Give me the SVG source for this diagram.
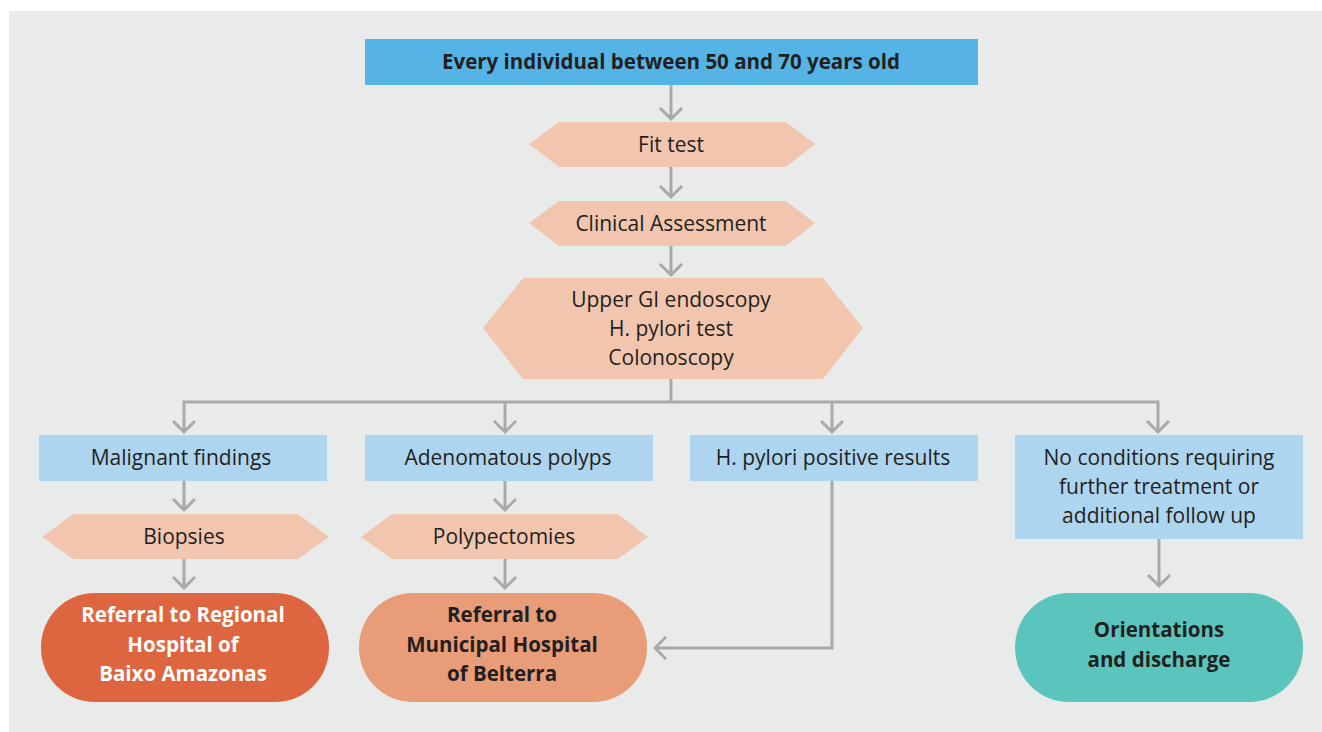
<svg xmlns="http://www.w3.org/2000/svg" width="1322" height="732" viewBox="0 0 1322 732">
<style>
text{font-family:"Open Sans","Noto Sans","Liberation Sans",sans-serif;font-size:21px;fill:#231f20;text-anchor:middle}
.b{font-weight:bold;font-size:20.5px}
.w{fill:#ffffff}
.hex{fill:#f2c6ae}
.blue{fill:#aed5ef}
.conn path{fill:none;stroke:#a8a9ab;stroke-width:3}
</style>
<rect x="0" y="0" width="1322" height="732" fill="#ffffff"/>
<rect x="9" y="11" width="1313" height="721" fill="#e9ebea"/>
<g class="conn" id="connectors">
<path d="M671 85V119M660 108L671 119L682 108"/>
<path d="M671 167V197M660 186L671 197L682 186"/>
<path d="M671 246V275M660 264L671 275L682 264"/>
<path d="M671 379V402M184 432V402H1158V432"/>
<path d="M173 421L184 432L195 421"/>
<path d="M505 402V432M494 421L505 432L516 421"/>
<path d="M832 402V432M821 421L832 432L843 421"/>
<path d="M1147 421L1158 432L1169 421"/>
<path d="M184 481V510M173 499L184 510L195 499"/>
<path d="M505 481V510M494 499L505 510L516 499"/>
<path d="M184 559V588M173 577L184 588L195 577"/>
<path d="M505 559V588M494 577L505 588L516 577"/>
<path d="M832 481V648H655M666 637L655 648L666 659"/>
<path d="M1159 538V586M1148 575L1159 586L1170 575"/>
</g>
<g id="start">
<rect x="365" y="39" width="613" height="46" fill="#55b4e5"/>
<text class="b" x="671" y="69">Every individual between 50 and 70 years old</text>
</g>
<g id="fit">
<polygon class="hex" points="529,144 559,122 786,122 815,144 786,167 559,167"/>
<text x="671" y="152">Fit test</text>
</g>
<g id="clinical">
<polygon class="hex" points="529,223 559,201 786,201 815,223 786,246 559,246"/>
<text x="671" y="231">Clinical Assessment</text>
</g>
<g id="exams">
<polygon class="hex" points="483,328 523,278 823,278 863,328 823,379 523,379"/>
<text x="671" y="307">Upper GI endoscopy</text>
<text x="671" y="336">H. pylori test</text>
<text x="671" y="365">Colonoscopy</text>
</g>
<g id="malignant">
<rect class="blue" x="39" y="435" width="288" height="46"/>
<text x="181" y="465">Malignant findings</text>
</g>
<g id="adenoma">
<rect class="blue" x="365" y="435" width="288" height="46"/>
<text x="508" y="465">Adenomatous polyps</text>
</g>
<g id="hpylori">
<rect class="blue" x="690" y="435" width="288" height="46"/>
<text x="833" y="465">H. pylori positive results</text>
</g>
<g id="noconditions">
<rect class="blue" x="1015" y="435" width="288" height="104"/>
<text x="1159" y="465">No conditions requiring</text>
<text x="1159" y="494">further treatment or</text>
<text x="1159" y="523">additional follow up</text>
</g>
<g id="biopsies">
<polygon class="hex" points="42,537 73,514 298,514 329,537 298,559 73,559"/>
<text x="184" y="544">Biopsies</text>
</g>
<g id="polypectomies">
<polygon class="hex" points="361,537 392,514 618,514 648,537 618,559 392,559"/>
<text x="504" y="544">Polypectomies</text>
</g>
<g id="regional">
<rect x="41" y="593" width="288" height="109" rx="54" ry="54" fill="#dd6640"/>
<text class="b w" x="183" y="622">Referral to Regional</text>
<text class="b w" x="183" y="652">Hospital of</text>
<text class="b w" x="183" y="681">Baixo Amazonas</text>
</g>
<g id="municipal">
<rect x="359" y="593" width="288" height="109" rx="54" ry="54" fill="#e99c78"/>
<text class="b" x="502" y="622">Referral to</text>
<text class="b" x="502" y="652">Municipal Hospital</text>
<text class="b" x="502" y="681">of Belterra</text>
</g>
<g id="discharge">
<rect x="1015" y="593" width="288" height="109" rx="54" ry="54" fill="#5bc4bd"/>
<text class="b" x="1159" y="637">Orientations</text>
<text class="b" x="1159" y="667">and discharge</text>
</g>
</svg>
